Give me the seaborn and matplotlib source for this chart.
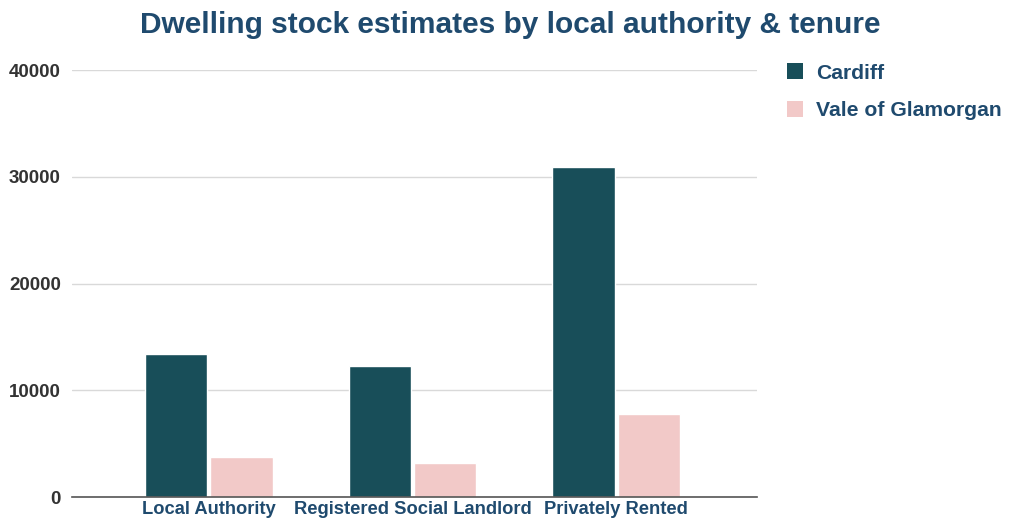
import matplotlib
matplotlib.use("Agg")
import matplotlib.pyplot as plt
import seaborn as sns
import pandas as pd

categories = ["Local Authority", "Registered Social Landlord", "Privately Rented"]
cardiff = [13400, 12300, 30900]
vale = [3750, 3200, 7800]
series_names = ["Cardiff", "Vale of Glamorgan"]
yticks = [0, 10000, 20000, 30000, 40000]

df = pd.DataFrame({
    "Tenure": categories * 2,
    "Value": cardiff + vale,
    "Area": [series_names[0]] * 3 + [series_names[1]] * 3,
})

sns.set_theme(style="white")
plt.rcParams["font.family"] = ["Liberation Sans", "DejaVu Sans"]

fig = plt.figure(figsize=(10.11, 5.27), dpi=100)
ax = fig.add_axes([0.0712, 0.0569, 0.6776, 0.8101])
palette = {"Cardiff": "#184E59", "Vale of Glamorgan": "#F2C9C8"}
sns.barplot(data=df, x="Tenure", y="Value", hue="Area", palette=palette,
            width=0.64, gap=0.04, ax=ax, legend=False, saturation=1)

ax.set_ylim(0, 40000)
ax.set_xlim(-0.67, 2.69)
ax.set_yticks(yticks)
ax.set_yticklabels([str(v) for v in yticks], fontsize=13.5, fontweight="bold", color="#333333")
ax.set_xticks(range(3))
ax.set_xticklabels(categories, fontsize=13.2, fontweight="bold", color="#1F4A6E")
ax.set_xlabel("")
ax.set_ylabel("")
ax.grid(axis="y", color="#D9D9D9", linewidth=1)
ax.set_axisbelow(True)
for s in ["top", "right", "left"]:
    ax.spines[s].set_visible(False)
ax.spines["bottom"].set_color("#555555")
ax.spines["bottom"].set_linewidth(1.2)
ax.tick_params(axis="y", length=0, pad=8)
ax.tick_params(axis="x", length=0, pad=3)

fig.text(0.505, 0.952, "Dwelling stock estimates by local authority & tenure",
         ha="center", va="center", fontsize=21.5, fontweight="bold", color="#1F4A6E")

from matplotlib.patches import Patch
handles = [Patch(facecolor=palette[n], edgecolor="none") for n in series_names]
leg = fig.legend(handles, series_names, loc="upper left", bbox_to_anchor=(0.778, 0.880),
                 frameon=False, handlelength=0.8, handleheight=0.8, handletextpad=0.6,
                 labelspacing=0.87, borderpad=0, borderaxespad=0,
                 prop={"weight": "bold", "size": 15.2})
for t in leg.get_texts():
    t.set_color("#1F4A6E")

fig.savefig("out.png", dpi=100)
